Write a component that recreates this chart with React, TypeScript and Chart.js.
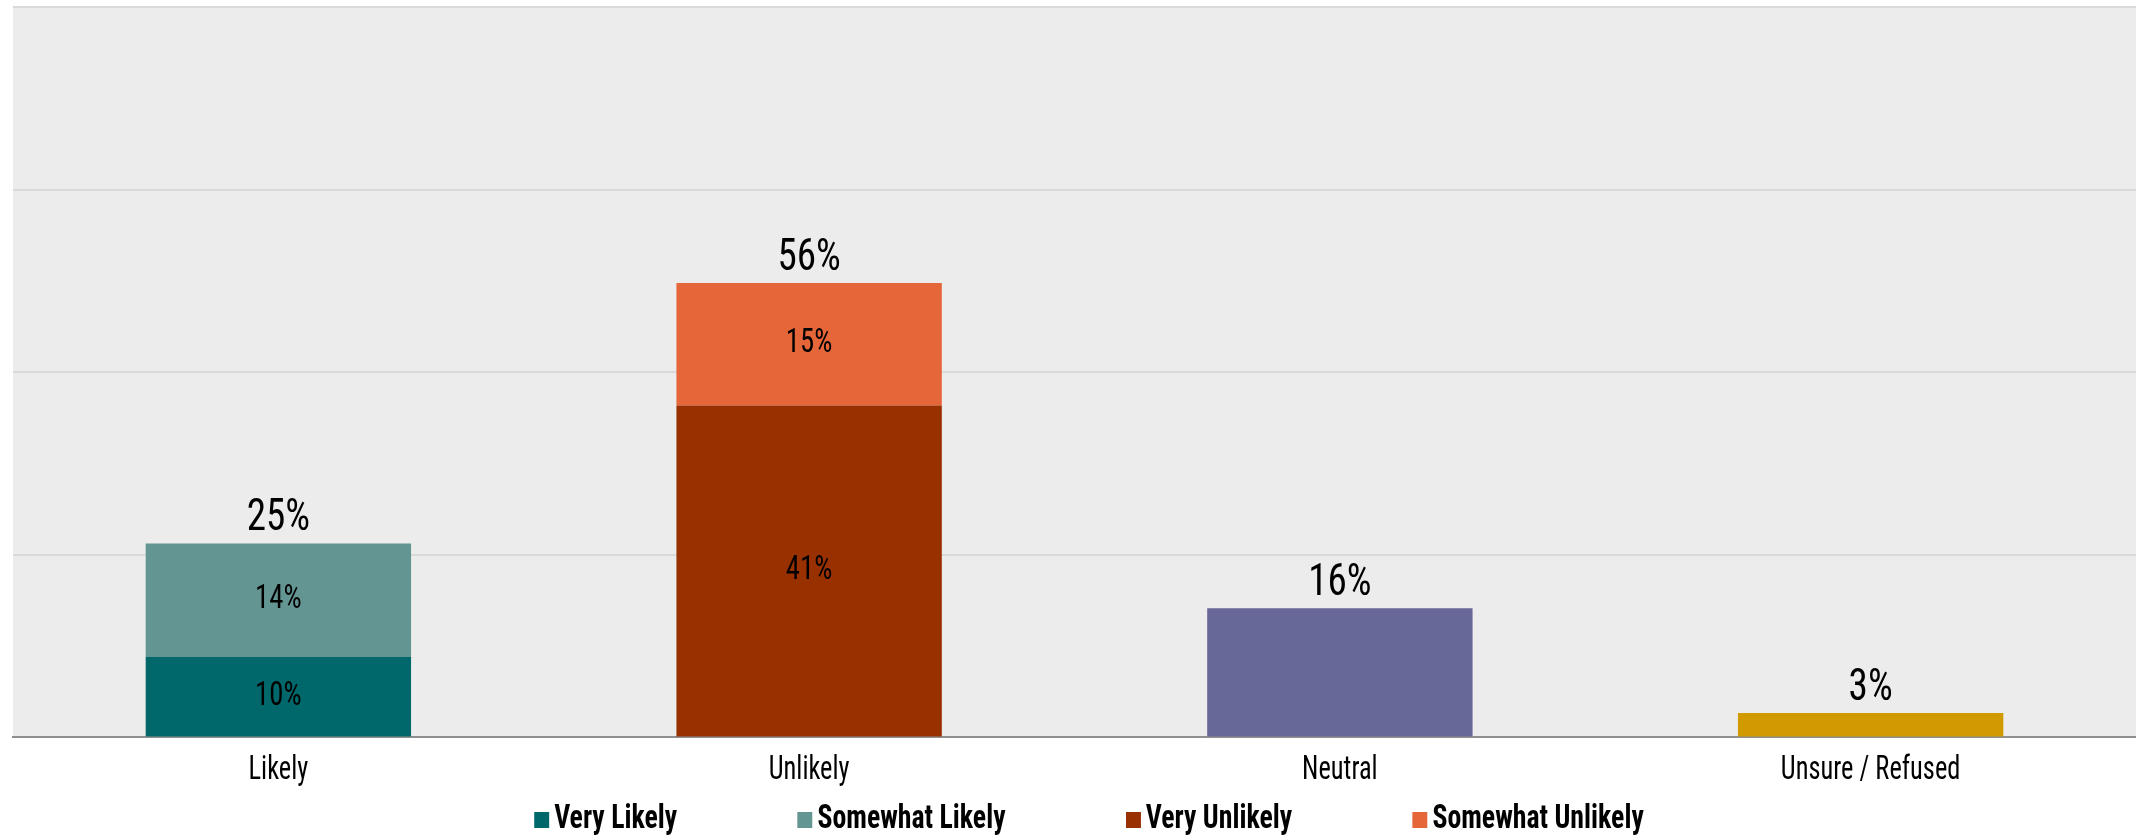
import React, { useEffect, useRef } from 'react';
import { Chart, registerables } from 'chart.js';

Chart.register(...registerables);

const FONT = "'Liberation Sans Narrow', 'Roboto Condensed', 'DejaVu Sans Condensed', 'Noto Sans', sans-serif";

const categories = ['Likely', 'Unlikely', 'Neutral', 'Unsure / Refused'];
const seriesNames = ['Very Likely', 'Somewhat Likely', 'Very Unlikely', 'Somewhat Unlikely', 'Neutral', 'Unsure / Refused'];
const veryLikely = [9.9, null, null, null];
const somewhatLikely = [14.0, null, null, null];
const veryUnlikely = [null, 40.9, null, null];
const somewhatUnlikely = [null, 15.1, null, null];
const neutral = [null, null, 15.9, null];
const unsure = [null, null, null, 3.0];
const totalLabels = ['25%', '56%', '16%', '3%'];
const seriesColors = ['#00686a', '#639593', '#993000', '#e56638', '#676798', '#d09a00'];
const legendSeries = [0, 1, 2, 3];
const segmentLabelSeries = [0, 1, 2, 3];
const yMin = 0;
const yMax = 90;
const yStep = 22.5;

const allSeries = [veryLikely, somewhatLikely, veryUnlikely, somewhatUnlikely, neutral, unsure];

const SQUEEZE = 0.87;
const TICK_SQUEEZE = 0.8;
const LEGEND_SQUEEZE = 0.83;

const plotBg = {
  id: 'plotBg',
  beforeDraw(chart: any) {
    const { ctx, chartArea } = chart;
    ctx.save();
    ctx.fillStyle = '#ececec';
    ctx.fillRect(chartArea.left, chartArea.top, chartArea.right - chartArea.left, chartArea.bottom - chartArea.top);
    ctx.restore();
  },
};

// Draw the x axis's own tick label items, horizontally condensed like the reference typeface.
const condensedTicks = {
  id: 'condensedTicks',
  afterLayout(chart: any) {
    const sc = chart.scales.x;
    if (!sc || sc.__condensed) return;
    sc.__condensed = true;
    sc.drawLabels = function (area: any) {
      if (!this.options.ticks.display) return;
      const ctx = this.ctx;
      const items = this.getLabelItems(area);
      for (const item of items) {
        const o = item.options;
        const [tx, ty] = o.translation;
        ctx.save();
        ctx.translate(tx, ty);
        if (o.rotation) ctx.rotate(o.rotation);
        ctx.scale(TICK_SQUEEZE, 1);
        ctx.font = item.font.string;
        ctx.fillStyle = o.color;
        ctx.textAlign = o.textAlign;
        ctx.textBaseline = o.textBaseline;
        ctx.fillText(String(item.label), 0, item.textOffset);
        ctx.restore();
      }
    };
  },
};

function drawText(ctx: any, text: string, x: number, y: number) {
  ctx.save();
  ctx.translate(x, y);
  ctx.scale(SQUEEZE, 1);
  ctx.fillText(text, 0, 0);
  ctx.restore();
}

const barLabels = {
  id: 'barLabels',
  afterDatasetsDraw(chart: any) {
    const { ctx } = chart;
    ctx.save();
    ctx.fillStyle = '#000';
    ctx.textAlign = 'center';
    ctx.font = `normal 33px ${FONT}`;
    ctx.textBaseline = 'middle';
    segmentLabelSeries.forEach((di) => {
      const meta = chart.getDatasetMeta(di);
      meta.data.forEach((el: any, j: number) => {
        const v = allSeries[di][j];
        if (v === null || v === undefined) return;
        drawText(ctx, Math.round(v as number) + '%', el.x, (el.y + el.base) / 2);
      });
    });
    ctx.font = `normal 45px ${FONT}`;
    ctx.textBaseline = 'alphabetic';
    categories.forEach((_c, j) => {
      let top = Infinity;
      let x = 0;
      allSeries.forEach((s, di) => {
        if (s[j] === null || s[j] === undefined) return;
        const el: any = chart.getDatasetMeta(di).data[j];
        if (el && el.y < top) {
          top = el.y;
          x = el.x;
        }
      });
      if (top !== Infinity) drawText(ctx, totalLabels[j], x, top - 13);
    });
    ctx.restore();
  },
};

export default function App() {
  const canvasRef = useRef<HTMLCanvasElement | null>(null);

  useEffect(() => {
    if (!canvasRef.current) return;
    const chart = new Chart(canvasRef.current, {
      type: 'bar',
      data: {
        labels: categories,
        datasets: allSeries.map((s, i) => ({
          label: seriesNames[i],
          data: s,
          backgroundColor: seriesColors[i],
          borderWidth: 0,
          barPercentage: 0.5,
          categoryPercentage: 1,
        })),
      },
      options: {
        responsive: false,
        animation: false,
        devicePixelRatio: 1,
        layout: { padding: { left: 13, right: 0, top: 7, bottom: 31 } },
        plugins: {
          legend: { display: false },
          tooltip: { enabled: false },
        },
        scales: {
          x: {
            stacked: true,
            grid: { display: false, drawTicks: false },
            border: { display: true, color: '#8f8f8f', width: 2 },
            ticks: { color: '#000', padding: 14, font: { family: FONT, size: 33, weight: 'normal' } },
          },
          y: {
            stacked: true,
            min: yMin,
            max: yMax,
            ticks: { display: false, stepSize: yStep },
            grid: { color: '#d9d9d9', lineWidth: 2, drawTicks: false },
            border: { display: false },
          },
        },
      },
      plugins: [plotBg, condensedTicks, barLabels],
    });
    return () => chart.destroy();
  }, []);

  return (
    <div style={{ position: 'relative', width: 2136, height: 836, background: '#fff', overflow: 'hidden' }}>
      <style>{'body{margin:0;}'}</style>
      <canvas ref={canvasRef} width={2136} height={836} style={{ display: 'block', width: 2136, height: 836 }} />
      <div
        style={{
          position: 'absolute',
          top: 799,
          left: 1089,
          transform: `translateX(-50%) scaleX(${LEGEND_SQUEEZE})`,
          transformOrigin: 'center top',
          display: 'flex',
          alignItems: 'flex-start',
          whiteSpace: 'nowrap',
          fontFamily: FONT,
          fontSize: 33.5,
          fontWeight: 'bold',
          lineHeight: '36px',
          color: '#000',
        }}
      >
        {legendSeries.map((i, k) => (
          <div key={i} style={{ display: 'flex', alignItems: 'flex-start', marginLeft: k === 0 ? 0 : Math.round(120 / LEGEND_SQUEEZE) }}>
            <span
              style={{
                display: 'inline-block',
                width: Math.round(15 / LEGEND_SQUEEZE),
                height: 16,
                marginTop: 13,
                marginRight: Math.round(5 / LEGEND_SQUEEZE),
                background: seriesColors[i],
              }}
            />
            <span>{seriesNames[i]}</span>
          </div>
        ))}
      </div>
    </div>
  );
}
